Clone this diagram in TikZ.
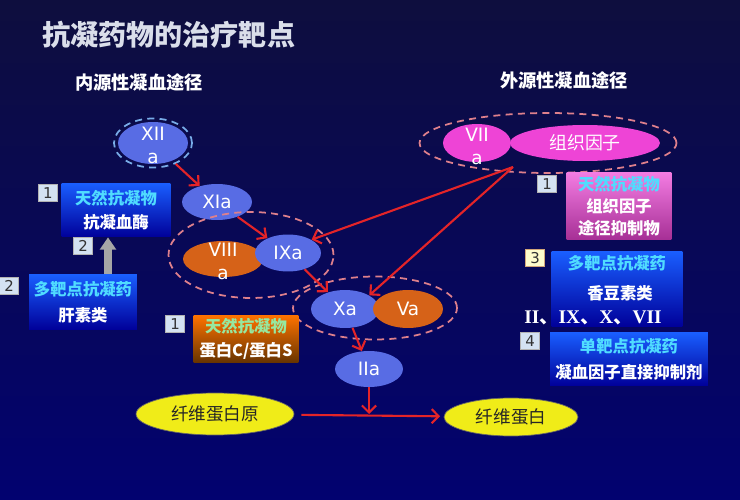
\documentclass[tikz,border=0pt]{standalone}
\usepackage{fontspec}
\setmainfont{DejaVu Sans}
\newfontfamily\cjk{Noto Sans CJK SC}
\newfontfamily\romanf{Liberation Serif}
\usetikzlibrary{shapes.geometric,arrows.meta}
\definecolor{bgtop}{RGB}{14,14,62}
\definecolor{bgbot}{RGB}{2,2,112}
\definecolor{fblue}{RGB}{88,108,228}
\definecolor{forange}{RGB}{214,98,24}
\definecolor{fpink}{RGB}{238,68,214}
\definecolor{fyellow}{RGB}{240,236,24}
\definecolor{arrred}{RGB}{228,36,40}
\definecolor{ringpink}{RGB}{222,128,140}
\definecolor{ringblue}{RGB}{120,172,232}
\definecolor{titlegray}{RGB}{218,222,234}
\definecolor{cyantxt}{RGB}{80,220,255}
\definecolor{greentxt}{RGB}{150,232,160}
\definecolor{numfill}{RGB}{212,226,242}
\tikzset{
	blob/.style={ellipse, inner sep=0pt, text=white, align=center,
			font=\fontsize{10.5}{13}\selectfont},
	ring/.style={ellipse, draw=ringpink, line width=1pt, dash pattern=on 4pt off 3pt},
	react/.style={draw=arrred, line width=1.2pt, -{Straight Barb[length=4pt,width=8pt]}},
	board/.style={rectangle, inner sep=0pt, align=center, text=white,
			font=\cjk\bfseries\fontsize{9.3}{11.5}\selectfont},
	bluebox/.style={board, top color=blue!70!cyan!90!white, bottom color=blue!60!black},
	numbox/.style={rectangle, fill=numfill, draw=gray!60, inner sep=0pt,
			minimum width=0.38cm, minimum height=0.35cm, text=black!80,
			font=\fontsize{8.5}{10}\selectfont}
}
\begin{document}
\begin{tikzpicture}[x=0.02cm,y=-0.02cm]
	\shade[top color=bgtop,bottom color=bgbot] (0,0) rectangle (740,500);
	\useasboundingbox (0,0) rectangle (740,500);

	% headings
	\node[anchor=west, text=titlegray, font=\cjk\bfseries\fontsize{16}{18}\selectfont] (title) at (36,35) {抗凝药物的治疗靶点};
	\node[text=white, font=\cjk\bfseries\fontsize{10.4}{12}\selectfont] (intr) at (139,82) {内源性凝血途径};
	\node[text=white, font=\cjk\bfseries\fontsize{10.4}{12}\selectfont] (extr) at (564,80) {外源性凝血途径};

	% intrinsic pathway
	\node[ring, draw=ringblue, minimum width=1.56cm, minimum height=0.98cm] (ring12) at (153,143) {};
	\node[blob, fill=fblue, minimum width=1.4cm, minimum height=0.84cm] (xiia) at (153,143) {};
	\node[blob] (xiia-t) at (153,145) {XII\\a};
	\node[blob, fill=fblue, minimum width=1.4cm, minimum height=0.72cm] (xia) at (217,202) {XIa};

	\node[ring, minimum width=3.3cm, minimum height=1.72cm] (ring9) at (251,255) {};
	\node[blob, fill=forange, minimum width=1.6cm, minimum height=0.72cm] (viiia) at (223,259) {};
	\node[blob] (viiia-t) at (223,261) {VIII\\a};
	\node[blob, fill=fblue, minimum width=1.32cm, minimum height=0.74cm] (ixa) at (288,253) {IXa};

	\node[ring, minimum width=3.28cm, minimum height=1.26cm] (ring10) at (375,308) {};
	\node[blob, fill=fblue, minimum width=1.36cm, minimum height=0.76cm] (xa) at (345,309) {Xa};
	\node[blob, fill=forange, minimum width=1.4cm, minimum height=0.76cm] (va) at (408,309) {Va};
	\node[blob, fill=fblue, minimum width=1.36cm, minimum height=0.72cm] (iia) at (369,369) {IIa};

	% extrinsic pathway
	\node[ring, minimum width=5.14cm, minimum height=1.2cm] (ring7) at (548,143) {};
	\node[blob, fill=fpink, minimum width=1.36cm, minimum height=0.76cm] (viia) at (477,143) {};
	\node[blob, fill=fpink, minimum width=3.0cm, minimum height=0.72cm, font=\cjk\fontsize{10.2}{12}\selectfont] (tf) at (585,143) {组织因子};
	\node[blob] (viia-t) at (477,146) {VII\\a};
	\coordinate (ext) at (513,167);

	% fibrin
	\node[blob, fill=fyellow, draw=black!60, text=black!85, minimum width=3.16cm, minimum height=0.84cm, font=\cjk\fontsize{10}{12}\selectfont] (fbg) at (215,414) {纤维蛋白原};
	\node[blob, fill=fyellow, draw=black!60, text=black!85, minimum width=2.68cm, minimum height=0.76cm, font=\cjk\fontsize{10}{12}\selectfont] (fbn) at (511,417) {纤维蛋白};

	% cascade arrows
	\draw[react] (ring12) -- (xia);
	\draw[react] (xia) -- (ixa);
	\draw[react] (ixa) -- (xa);
	\draw[react] (xa) -- (iia);
	\draw[react] (ext) -- (ixa.north east);
	\draw[react] (ext) -- (xa.north east);
	\draw[react, shorten <=4pt, shorten >=2pt] (fbg) -- (fbn);
	\draw[react] (iia) -- (iia |- fbg);

	% inhibitors, left side
	\node[bluebox, minimum width=2.18cm, minimum height=1.08cm] (atiii) at (116,210) {{\color{cyantxt}天然抗凝物}\\[2pt]抗凝血酶};
	\node[numbox] (n1a) at (48,193) {1};
	\node[bluebox, minimum width=2.16cm, minimum height=1.1cm] (heparin) at (83,302) {{\color{cyantxt}多靶点抗凝药}\\[3pt]肝素类};
	\node[numbox] (n2a) at (9,286) {2};
	\node[numbox] (n2b) at (83,246) {2};
	\draw[gray!70!white, line width=5pt, -{Triangle[length=7pt,width=9pt]}] ([xshift=0.5cm]heparin.north) -- ([xshift=0.5cm]heparin.north |- atiii.south);

	\node[board, top color=orange!90!red, bottom color=orange!40!black, minimum width=2.1cm, minimum height=0.96cm] (pcps) at (246,339) {{\color{greentxt}天然抗凝物}\\[2pt]蛋白C/蛋白S};
	\node[numbox] (n1b) at (175,324) {1};

	% inhibitors, right side
	\node[board, top color=fpink!70!white, bottom color=fpink!70!black, minimum width=2.1cm, minimum height=1.34cm, font=\cjk\bfseries\fontsize{9.3}{12.5}\selectfont] (tfpi) at (619,206) {{\color{cyantxt}天然抗凝物}\\组织因子\\途径抑制物};
	\node[numbox] (n1c) at (547,184) {1};

	\node[bluebox, minimum width=2.62cm, minimum height=1.5cm] (coumarin) at (617,289) {};
	\node[board, text=cyantxt] (coum-a) at (617,263) {多靶点抗凝药};
	\node[board] (coum-b) at (620,293) {香豆素类};
	\node[text=white, font=\romanf\bfseries\fontsize{11}{13}\selectfont] (coum-c) at (593,318) {II{\cjk 、}IX{\cjk 、}X{\cjk 、}VII};
	\node[numbox, fill=yellow!20!white, draw=brown!70!white] (n3) at (535,258) {3};

	\node[bluebox, minimum width=3.16cm, minimum height=1.06cm] (direct) at (629,359) {{\color{cyantxt}单靶点抗凝药}\\[3pt]凝血因子直接抑制剂};
	\node[numbox] (n4) at (530,341) {4};
\end{tikzpicture}
\end{document}
